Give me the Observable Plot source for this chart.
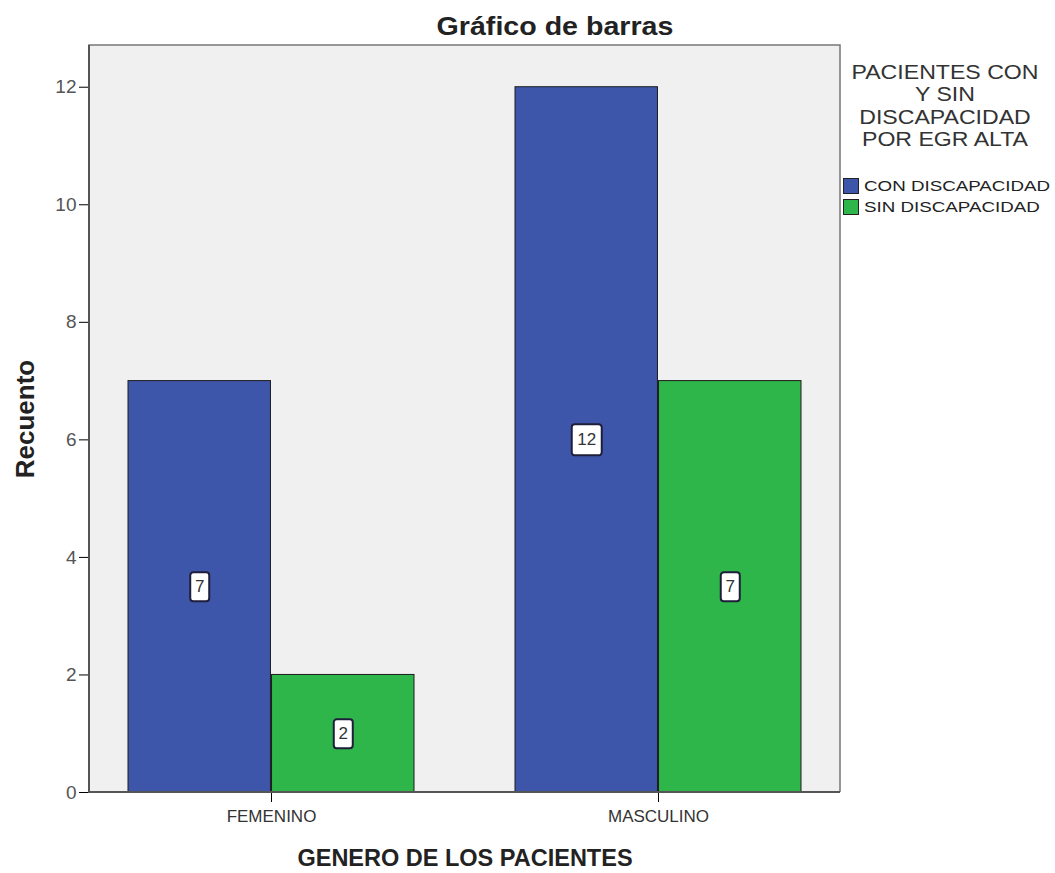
<!DOCTYPE html>
<html><head><meta charset="utf-8">
<script src="https://cdn.jsdelivr.net/npm/d3@7"></script>
<script src="https://cdn.jsdelivr.net/npm/@observablehq/plot@0.6"></script>
<style>
body{margin:0;background:#fff;}
#wrap{position:relative;width:1055px;height:873px;font-family:"Liberation Sans",Arial,sans-serif;}
#title{position:absolute;top:11px;left:0;width:1110px;text-align:center;font-weight:bold;font-size:26px;color:#222;transform:scaleX(1.1);transform-origin:555px 0;}
#legtitle{position:absolute;left:832px;top:61px;width:226px;text-align:center;font-size:21px;line-height:22.4px;color:#333;transform:scaleX(1.1);transform-origin:113px 0;}
#legend{position:absolute;left:843px;top:175px;}
.sw{display:flex;align-items:center;height:21px;font-size:15px;color:#222;}
.sw span.box{display:inline-block;width:14px;height:14px;border:1px solid #222;margin-right:5px;}
.sw span.lab{display:inline-block;transform:scaleX(1.25);transform-origin:0 50%;}
#chart svg g[aria-label="y-axis label"] text{font-weight:bold;font-size:26px;fill:#222;}
#chart svg g[aria-label="x-axis label"] text{font-weight:bold;font-size:23.5px;fill:#222;}
#chart svg g[aria-label="y-axis tick label"] text{font-size:19px;fill:#555;}
#chart svg g[aria-label="x-axis tick label"] text{font-size:17px;fill:#333;}
</style>
</head><body>
<div id="wrap">
  <div id="chart"></div>
  <div id="title">Gráfico de barras</div>
  <div id="legtitle">PACIENTES CON<br>Y SIN<br>DISCAPACIDAD<br>POR EGR ALTA</div>
  <div id="legend"></div>
</div>
<script>
const genders = ["FEMENINO", "MASCULINO"];
const series = ["CON DISCAPACIDAD", "SIN DISCAPACIDAD"];
const conValues = [7, 12];
const sinValues = [2, 7];
const yTicks = [0, 2, 4, 6, 8, 10, 12];
const colors = ["#3e56aa", "#2eb64a"];

const conData = genders.map((g, i) => ({genero: g, grupo: series[0], n: conValues[i]}));
const sinData = genders.map((g, i) => ({genero: g, grupo: series[1], n: sinValues[i]}));

const W = 1055, H = 873, mL = 89, mR = 215, mT = 45, mB = 81;
const xOpts = {type: "band", domain: genders, paddingInner: 0.26, paddingOuter: 0.098};
const bw = Plot.scale({x: {...xOpts, range: [mL, W - mR]}}).bandwidth;

function boxSymbol(w, h, rad) {
  return {draw(ctx) {
    const x0 = -w/2, y0 = -h/2, x1 = w/2, y1 = h/2;
    ctx.moveTo(x0 + rad, y0);
    ctx.arcTo(x1, y0, x1, y1, rad);
    ctx.arcTo(x1, y1, x0, y1, rad);
    ctx.arcTo(x0, y1, x0, y0, rad);
    ctx.arcTo(x0, y0, x1, y0, rad);
    ctx.closePath();
  }};
}

function labelMarks(rows, dx) {
  return [
    Plot.dot(rows.filter(d => String(d.n).length === 1), {x: "genero", y: d => d.n / 2, dx, symbol: boxSymbol(19, 29, 3), r: 5, fill: "white", stroke: "#1e1e3a", strokeWidth: 2}),
    Plot.dot(rows.filter(d => String(d.n).length > 1), {x: "genero", y: d => d.n / 2, dx, symbol: boxSymbol(30, 31, 3), r: 5, fill: "white", stroke: "#1e1e3a", strokeWidth: 2}),
    Plot.text(rows, {x: "genero", y: d => d.n / 2, dx, text: d => String(d.n), fontSize: 17, fill: "#333"})
  ];
}

const plot = Plot.plot({
  width: W, height: H,
  marginLeft: mL, marginRight: mR, marginTop: mT, marginBottom: mB,
  style: {fontFamily: '"Liberation Sans",Arial,sans-serif', background: "transparent", overflow: "visible"},
  x: {...xOpts, label: "GENERO DE LOS PACIENTES", labelAnchor: "center", labelOffset: 73, tickSize: 10, tickPadding: 7},
  y: {domain: [0, 12.71], ticks: yTicks, label: "Recuento", labelAnchor: "center", labelOffset: 74, labelArrow: "none", tickSize: 10, tickPadding: 3},
  color: {domain: series, range: colors},
  marks: [
    Plot.frame({fill: "#f0f0f0", stroke: null}),
    Plot.barY(conData, {x: "genero", y: "n", fill: "grupo", stroke: "#1c1c1c", strokeWidth: 1, insetRight: bw / 2}),
    Plot.barY(sinData, {x: "genero", y: "n", fill: "grupo", stroke: "#1c1c1c", strokeWidth: 1, insetLeft: bw / 2}),
    ...labelMarks(conData, -bw / 4),
    ...labelMarks(sinData, bw / 4)
  ]
});
document.getElementById("chart").appendChild(plot);

// plot-area border from the library's scales
const xr = plot.scale("x").range, yr = plot.scale("y").range;
const svg = d3.select(plot);
const x0 = Math.min(...xr), x1 = Math.max(...xr), yb = Math.max(...yr), yt = Math.min(...yr);
svg.append("path").attr("d", `M${x0},${yb}L${x0},${yt}L${x1},${yt}L${x1},${yb}`).attr("fill", "none").attr("stroke", "#777").attr("stroke-width", 1.5);
svg.append("path").attr("d", `M${x0},${yt}L${x0},${yb}L${x1},${yb}`).attr("fill", "none").attr("stroke", "#555").attr("stroke-width", 2);

const leg = d3.select("#legend");
series.forEach((s, i) => {
  const row = leg.append("div").attr("class", "sw");
  row.append("span").attr("class", "box").style("background", colors[i]);
  row.append("span").attr("class", "lab").text(s);
});
</script>
</body></html>
